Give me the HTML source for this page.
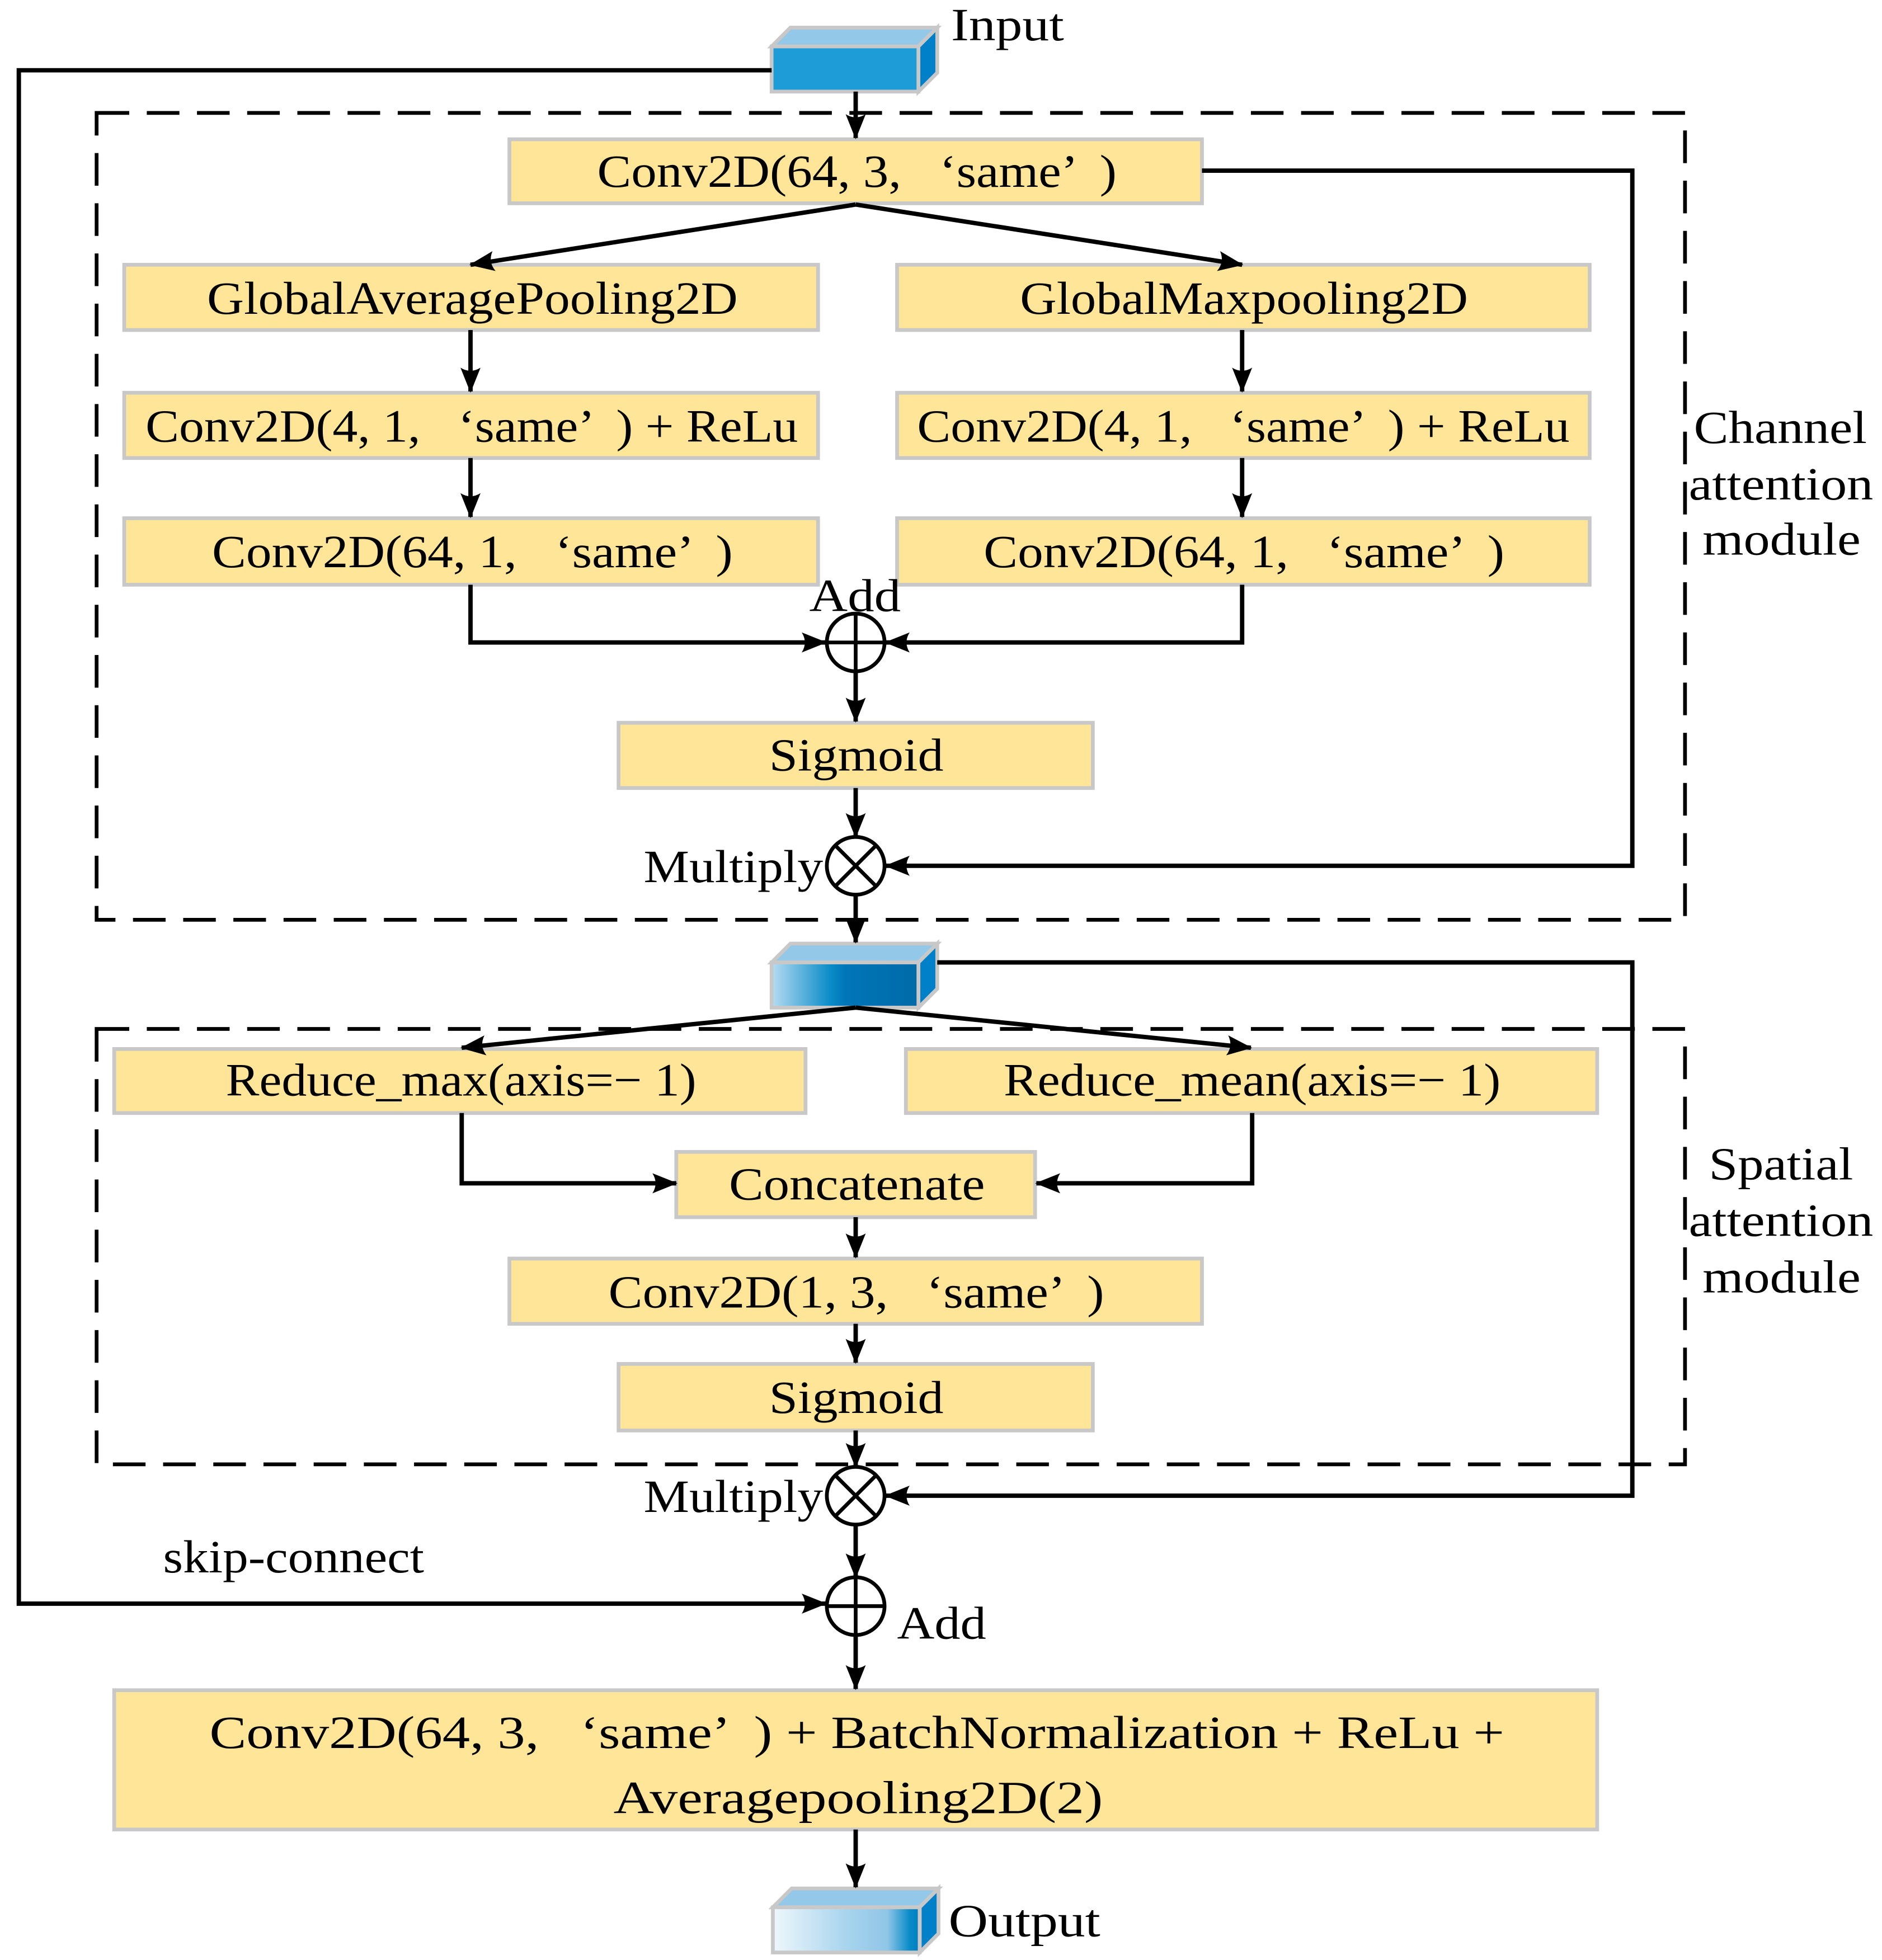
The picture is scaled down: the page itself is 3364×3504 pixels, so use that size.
<!DOCTYPE html>
<html><head><meta charset="utf-8"><style>
html,body{margin:0;padding:0;background:#fff;}
svg{display:block;}
text{font-family:"Liberation Serif",serif;fill:#000;}
</style></head><body>
<svg width="3364" height="3504" viewBox="0 0 1500 1562" preserveAspectRatio="none" xmlns="http://www.w3.org/2000/svg">
<defs>
<marker id="a" viewBox="0 0 20 20" refX="19" refY="10" markerWidth="20" markerHeight="20" markerUnits="userSpaceOnUse" orient="auto">
<path d="M0,2 L20,10 L0,18 Q5,10 0,2 Z" fill="#000"/>
</marker>
<linearGradient id="g2" x1="0" x2="1"><stop offset="0" stop-color="#b5dcf2"/><stop offset="0.4" stop-color="#0a8cc8"/><stop offset="0.5" stop-color="#0076b8"/><stop offset="1" stop-color="#006aa8"/></linearGradient>
<linearGradient id="g3" x1="0" x2="1"><stop offset="0" stop-color="#eef7fc"/><stop offset="0.5" stop-color="#a8d4ee"/><stop offset="0.78" stop-color="#8fc6e6"/><stop offset="0.93" stop-color="#0a8cc8"/><stop offset="1" stop-color="#007cc0"/></linearGradient>
</defs>
<g fill="#ffe597" stroke="#c8c8c8" stroke-width="3">
<rect x="406" y="111" width="552" height="51"/>
<rect x="99" y="211" width="553" height="52"/>
<rect x="715" y="211" width="552" height="52"/>
<rect x="99" y="313" width="553" height="52"/>
<rect x="715" y="313" width="552" height="52"/>
<rect x="99" y="413" width="553" height="53"/>
<rect x="715" y="413" width="552" height="53"/>
<rect x="493" y="576" width="378" height="52"/>
<rect x="91" y="836" width="551" height="51"/>
<rect x="722" y="836" width="551" height="51"/>
<rect x="539" y="918" width="286" height="52"/>
<rect x="406" y="1003" width="552" height="52"/>
<rect x="493" y="1087" width="378" height="53"/>
<rect x="91" y="1347" width="1182" height="111"/>
</g>
<g fill="none" stroke="#000" stroke-width="3" stroke-dasharray="26,14">
<rect x="77" y="90" width="1266" height="643"/>
<rect x="77" y="820" width="1266" height="347"/>
</g>
<g stroke="#c8c8c8" stroke-width="3">
<polygon points="615,37 630,22 747,22 732,37" fill="#94c8e8"/>
<polygon points="732,37 747,22 747,58 732,73" fill="#0080c8"/>
<rect x="615" y="37" width="117" height="36" fill="#1e9cd8"/>
<polygon points="615,767 630,752 747,752 732,767" fill="#94c8e8"/>
<polygon points="732,767 747,752 747,788 732,803" fill="#0080c8"/>
<rect x="615" y="767" width="117" height="36" fill="url(#g2)"/>
<polygon points="616,1520 631,1505 748,1505 733,1520" fill="#94c8e8"/>
<polygon points="733,1520 748,1505 748,1541 733,1556" fill="#0080c8"/>
<rect x="616" y="1520" width="117" height="36" fill="url(#g3)"/>
</g>
<g fill="none" stroke="#000" stroke-width="3.5">
<polyline points="615,56 15,56 15,1278 658,1278" marker-end="url(#a)"/>
<line x1="682" y1="73" x2="682" y2="110" marker-end="url(#a)"/>
<polyline points="958,136 1301,136 1301,690 706,690" marker-end="url(#a)"/>
<line x1="682" y1="163" x2="375" y2="211" marker-end="url(#a)"/>
<line x1="682" y1="163" x2="990" y2="211" marker-end="url(#a)"/>
<line x1="375" y1="263" x2="375" y2="312" marker-end="url(#a)"/>
<line x1="990" y1="263" x2="990" y2="312" marker-end="url(#a)"/>
<line x1="375" y1="365" x2="375" y2="412" marker-end="url(#a)"/>
<line x1="990" y1="365" x2="990" y2="412" marker-end="url(#a)"/>
<polyline points="375,466 375,512 658,512" marker-end="url(#a)"/>
<polyline points="990,466 990,512 706,512" marker-end="url(#a)"/>
<line x1="682" y1="535" x2="682" y2="575" marker-end="url(#a)"/>
<line x1="682" y1="628" x2="682" y2="667" marker-end="url(#a)"/>
<line x1="682" y1="713" x2="682" y2="751" marker-end="url(#a)"/>
<polyline points="747,767 1301,767 1301,1192 706,1192" marker-end="url(#a)"/>
<line x1="682" y1="803" x2="368" y2="835" marker-end="url(#a)"/>
<line x1="682" y1="803" x2="997" y2="835" marker-end="url(#a)"/>
<polyline points="368,887 368,943 539,943" marker-end="url(#a)"/>
<polyline points="998,887 998,943 826,943" marker-end="url(#a)"/>
<line x1="682" y1="970" x2="682" y2="1002" marker-end="url(#a)"/>
<line x1="682" y1="1055" x2="682" y2="1086" marker-end="url(#a)"/>
<line x1="682" y1="1140" x2="682" y2="1169" marker-end="url(#a)"/>
<line x1="682" y1="1215" x2="682" y2="1257" marker-end="url(#a)"/>
<line x1="682" y1="1303" x2="682" y2="1346" marker-end="url(#a)"/>
<line x1="682" y1="1458" x2="682" y2="1504" marker-end="url(#a)"/>
</g>
<g fill="#fff" stroke="#000" stroke-width="3">
<circle cx="682" cy="512" r="23"/><line x1="659" y1="512" x2="705" y2="512"/><line x1="682" y1="489" x2="682" y2="535"/>
<circle cx="682" cy="690" r="23"/><line x1="666" y1="674" x2="698" y2="706"/><line x1="698" y1="674" x2="666" y2="706"/>
<circle cx="682" cy="1192" r="23"/><line x1="666" y1="1176" x2="698" y2="1208"/><line x1="698" y1="1176" x2="666" y2="1208"/>
<circle cx="682" cy="1280" r="23"/><line x1="659" y1="1280" x2="705" y2="1280"/><line x1="682" y1="1257" x2="682" y2="1303"/>
</g>
<g font-size="37" lengthAdjust="spacingAndGlyphs">
<text x="476" y="149" textLength="414" lengthAdjust="spacingAndGlyphs">Conv2D(64, 3, &#160;&#160;‘same’ &#160;)</text>
<text x="165" y="250" textLength="423" lengthAdjust="spacingAndGlyphs">GlobalAveragePooling2D</text>
<text x="813" y="250" textLength="357" lengthAdjust="spacingAndGlyphs">GlobalMaxpooling2D</text>
<text x="116" y="352" textLength="520" lengthAdjust="spacingAndGlyphs">Conv2D(4, 1, &#160;&#160;‘same’ &#160;) + ReLu</text>
<text x="731" y="352" textLength="520" lengthAdjust="spacingAndGlyphs">Conv2D(4, 1, &#160;&#160;‘same’ &#160;) + ReLu</text>
<text x="169" y="452" textLength="415" lengthAdjust="spacingAndGlyphs">Conv2D(64, 1, &#160;&#160;‘same’ &#160;)</text>
<text x="784" y="452" textLength="415" lengthAdjust="spacingAndGlyphs">Conv2D(64, 1, &#160;&#160;‘same’ &#160;)</text>
<text x="645" y="487" textLength="73" lengthAdjust="spacingAndGlyphs">Add</text>
<text x="613" y="614" textLength="139" lengthAdjust="spacingAndGlyphs">Sigmoid</text>
<text x="180" y="873" textLength="375" lengthAdjust="spacingAndGlyphs">Reduce_max(axis=− 1)</text>
<text x="800" y="873" textLength="396" lengthAdjust="spacingAndGlyphs">Reduce_mean(axis=− 1)</text>
<text x="581" y="956" textLength="204" lengthAdjust="spacingAndGlyphs">Concatenate</text>
<text x="485" y="1042" textLength="395" lengthAdjust="spacingAndGlyphs">Conv2D(1, 3, &#160;&#160;‘same’ &#160;)</text>
<text x="613" y="1126" textLength="139" lengthAdjust="spacingAndGlyphs">Sigmoid</text>
<text x="167" y="1393" textLength="1032" lengthAdjust="spacingAndGlyphs">Conv2D(64, 3, &#160;&#160;‘same’ &#160;) + BatchNormalization + ReLu +</text>
<text x="489" y="1445" textLength="390" lengthAdjust="spacingAndGlyphs">Averagepooling2D(2)</text>
<text x="1350" y="353" textLength="138" lengthAdjust="spacingAndGlyphs">Channel</text>
<text x="1346" y="398" textLength="147" lengthAdjust="spacingAndGlyphs">attention</text>
<text x="1357" y="442" textLength="126" lengthAdjust="spacingAndGlyphs">module</text>
<text x="1362" y="940" textLength="115" lengthAdjust="spacingAndGlyphs">Spatial</text>
<text x="1346" y="985" textLength="147" lengthAdjust="spacingAndGlyphs">attention</text>
<text x="1357" y="1030" textLength="126" lengthAdjust="spacingAndGlyphs">module</text>
<text x="758" y="32" textLength="90" lengthAdjust="spacingAndGlyphs">Input</text>
<text x="513" y="703" textLength="143" lengthAdjust="spacingAndGlyphs">Multiply</text>
<text x="513" y="1205" textLength="143" lengthAdjust="spacingAndGlyphs">Multiply</text>
<text x="715" y="1306" textLength="71" lengthAdjust="spacingAndGlyphs">Add</text>
<text x="130" y="1253" textLength="208" lengthAdjust="spacingAndGlyphs">skip-connect</text>
<text x="756" y="1543" textLength="121" lengthAdjust="spacingAndGlyphs">Output</text>
</g>
</svg>
</body></html>
